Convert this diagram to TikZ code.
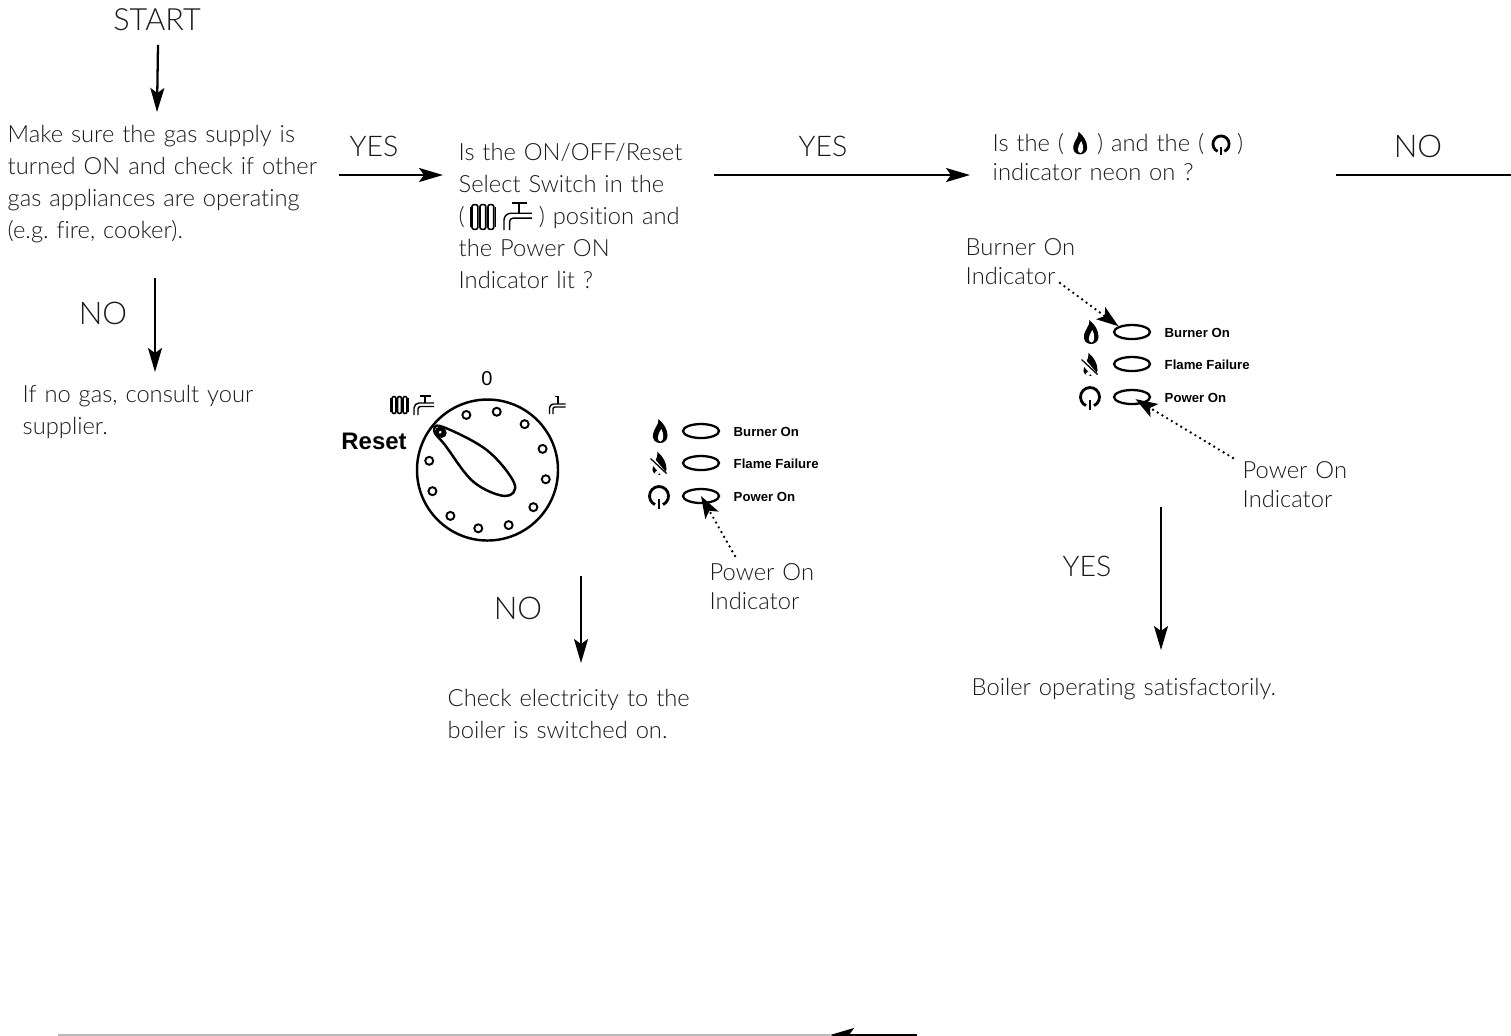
\documentclass[tikz,border=0pt]{standalone}
\usepackage{fontspec}
\setmainfont{Lato}[UprightFont=* Light, WordSpace=0.8, Ligatures=NoCommon]
\newfontfamily\panelfont{Liberation Sans}
\usetikzlibrary{shapes.geometric, arrows.meta, positioning, calc}

\definecolor{inkgrey}{gray}{0.1}
\frenchspacing

\tikzset{
    flow/.style={line width=0.65pt, -{Stealth[length=0.24cm, width=0.14cm, inset=0.05cm]}},
    txt/.style={font=\fontsize{6.75}{9.07}\selectfont, text=inkgrey, align=left, anchor=north west, inner ysep=0.1cm},
    note/.style={txt, font=\fontsize{6.75}{8.2}\selectfont},
    tag/.style={font=\fontsize{8.1}{9.07}\selectfont, text=inkgrey, inner sep=0},
    lamp/.style={draw, ellipse, line width=0.65pt, minimum width=0.36cm, minimum height=0.14cm, inner sep=0},
    lamptext/.style={font=\panelfont\bfseries\fontsize{3.75}{4.5}\selectfont, anchor=west, inner sep=0},
    pointer/.style={line width=0.75pt, dash pattern=on 0pt off 0.055cm, line cap=round, -{Stealth[length=0.22cm, width=0.15cm, inset=0.05cm]}},
    pegs/.style={draw, circle, line width=0.55pt, minimum size=0.08cm, inner sep=0},
    flame/.pic={
        \fill (0,-0.12) .. controls (-0.05,-0.12) and (-0.08,-0.08) .. (-0.07,-0.03)
            .. controls (-0.06,0.03) and (-0.01,0.06) .. (-0.015,0.12)
            .. controls (0.04,0.07) and (0.075,0.02) .. (0.075,-0.05)
            .. controls (0.075,-0.09) and (0.04,-0.12) .. (0,-0.12);
        \fill[white] (0.005,-0.105) .. controls (-0.03,-0.10) and (-0.035,-0.05) .. (0.014,0.02)
            .. controls (0.04,-0.03) and (0.04,-0.10) .. (0.005,-0.105);
    },
    noflame/.pic={
        \fill (0.01,-0.12) .. controls (-0.05,-0.12) and (-0.08,-0.08) .. (-0.06,-0.04)
            .. controls (-0.05,0.01) and (-0.01,0.05) .. (-0.015,0.11)
            .. controls (0.04,0.07) and (0.075,0.0) .. (0.075,-0.06)
            .. controls (0.075,-0.1) and (0.04,-0.12) .. (0.01,-0.12);
        \draw[white, line width=1.6pt] (-0.1,0.065) -- (0.06,-0.125);
        \fill[white] (-0.02,-0.10) circle (0.02);
        \draw[line width=0.35pt] (-0.085,0.045) -- (0.075,-0.105);
    },
    power/.pic={
        \draw[line width=0.8pt] (-65:0.095) arc (-65:245:0.095);
        \draw[line width=0.8pt] (0,-0.13) -- (0,-0.03);
    },
    tap/.pic={
        \draw[line width=0.4pt] (0,0) -- (0,0.07) arc (180:90:0.05) -- (0.20,0.12);
        \draw[line width=0.4pt] (0.04,0) -- (0.04,0.06) arc (180:90:0.025) -- (0.20,0.085);
        \draw[line width=0.55pt] (0.11,0.12) -- (0.11,0.19) (0.055,0.19) -- (0.165,0.19);
    },
    spout/.pic={
        \draw[line width=0.4pt] (0,0) -- (0,0.06) arc (180:90:0.04) -- (0.16,0.10);
        \draw[line width=0.4pt] (0.035,0) -- (0.035,0.05) arc (180:90:0.02) -- (0.16,0.07);
        \draw[line width=0.55pt] (0.085,0.10) -- (0.085,0.175) -- (0.05,0.175);
    },
    radiator/.pic={
        \foreach \x in {0.02,0.075,0.13} {
            \draw[line width=0.45pt, rounded corners=0.02cm] (\x-0.02,0.005) rectangle (\x+0.02,0.175);
        }
        \draw[line width=0.4pt] (-0.012,0.02) -- (-0.012,0.16) (0.162,0.02) -- (0.162,0.16);
    },
    panel/.pic={
        \path (0,0) pic {flame};
        \path (-0.01,-0.32) pic {noflame};
        \path (-0.01,-0.65) pic {power};
        \node[lamp] (-burner) at (0.41,0) {};
        \node[lamp] (-failure) at (0.41,-0.32) {};
        \node[lamp] (-on) at (0.41,-0.65) {};
        \node[lamptext] at (0.73,-0.01) {Burner On};
        \node[lamptext] at (0.73,-0.33) {Flame Failure};
        \node[lamptext] at (0.73,-0.66) {Power On};
    }
}

\begin{document}
\begin{tikzpicture}
    \useasboundingbox (0,0) rectangle (15.11,-10.35);

    % Text boxes
    \node[tag, font=\fontsize{8.7}{10}\selectfont] (start) at (1.57,-0.20) {START};
    \node[txt, inner xsep=0, inner ysep=0.13cm, text width=3.31cm] (gas) at (0.07,-1.12)
        {Make sure the gas supply is\\turned ON and check if other\\gas appliances are operating\\(e.g. fire, cooker).};
    \node[txt, inner xsep=0, inner ysep=0.13cm, text width=2.6cm] (nogas) at (0.22,-3.72)
        {If no gas, consult your\\supplier.};
    \node[txt, inner xsep=0.15cm, text width=2.4cm] (switch) at (4.43,-1.33)
        {Is the ON/OFF/Reset\\Select Switch in the\\(\hspace*{0.74cm}) position and\\the Power ON\\Indicator lit ?};
    \node[note, inner xsep=0.22cm, text width=3.21cm] (neon) at (9.70,-1.23)
        {Is the (\hspace*{0.33cm}) and the (\hspace*{0.33cm})\\indicator neon on ?};
    \node[txt, inner xsep=0, inner ysep=0.26cm, text width=2.8cm] (elec) at (4.47,-6.63)
        {Check electricity to the\\boiler is switched on.};
    \node[txt, inner xsep=0, inner ysep=0.28cm, text width=3.4cm] (boiler) at (9.71,-6.50)
        {Boiler operating satisfactorily.};

    % Branch words
    \node[tag] (yesa) at (3.74,-1.46) {YES};
    \node[tag] (yesb) at (8.23,-1.46) {YES};
    \node[tag, font=\fontsize{8.9}{10}\selectfont] (noc) at (14.18,-1.46) {NO};
    \node[tag, font=\fontsize{8.9}{10}\selectfont] (noa) at (1.03,-3.13) {NO};
    \node[tag, font=\fontsize{8.9}{10}\selectfont] (nob) at (5.18,-6.08) {NO};
    \node[tag] (yesc) at (10.87,-5.66) {YES};

    % Arrows
    \coordinate (rowa) at (0,-1.75);
    \coordinate (tailno) at (1.55,-2.78);
    \coordinate (tailel) at (5.81,-5.76);
    \coordinate (tailok) at (11.61,-5.07);
    \coordinate (edge) at (15.11,-1.75);
    \draw[flow] (start.south) ++(0.01,-0.13) -- (start.south |- gas.north);
    \draw[flow] (tailno) -- (tailno |- nogas.north);
    \draw[flow] (gas.east |- rowa) -- (switch.west |- rowa);
    \draw[flow] (switch.east |- rowa) -- (neon.west |- rowa);
    \draw[line width=0.65pt] (neon.east |- rowa) -- (edge);
    \draw[flow] (tailel) -- (tailel |- elec.north);
    \draw[flow] (tailok) -- (tailok |- boiler.north);

    % Bottom return line
    \coordinate (backa) at (9.17,-10.35);
    \coordinate (backb) at (8.30,-10.35);
    \coordinate (backc) at (0.58,-10.35);
    \draw[line width=0.65pt, gray!55] (backb) -- (backc);
    \draw[flow] (backa) -- (backb);

    % Dial
    \node[circle, draw, line width=0.7pt, minimum size=1.41cm, inner sep=0] (dial) at (4.875,-4.70) {};
    \foreach \a in {141,111,81,51,21,-9,-39,-69,-99,-129,-159,-189} {
        \node[pegs] at ($(dial.center)+(\a:0.59)$) {};
    }
    \draw[line width=0.7pt] plot[smooth cycle, tension=0.6] coordinates
        {(4.345,-4.32) (4.417,-4.265) (4.867,-4.50) (5.143,-4.833) (5.05,-4.96) (4.733,-4.817) (4.45,-4.45)};
    \draw[line width=1pt] (4.40,-4.32) circle (0.035);
    \node[font=\panelfont\bfseries\fontsize{6.8}{8}\selectfont, inner sep=0] (reset) at (3.74,-4.41) {Reset};
    \node[font=\panelfont\fontsize{5.7}{7}\selectfont, inner sep=0] (zero) at (4.87,-3.79) {0};
    \path (3.92,-4.14) pic {radiator};
    \path (4.14,-4.15) pic {tap};
    \path (5.495,-4.14) pic {spout};

    % Symbols standing in the text
    \path (4.72,-2.30) pic[scale=1.45, transform shape] {radiator};
    \path (5.04,-2.30) pic[scale=1.4, transform shape] {tap};
    \path (10.80,-1.43) pic[scale=0.95, transform shape] {flame};
    \path (12.21,-1.44) pic[scale=0.85, transform shape] {power};

    % Indicators
    \path (6.60,-4.31) pic (left) {panel};
    \path (10.91,-3.32) pic (right) {panel};

    % Dotted pointers
    \node[note, inner xsep=0, text width=1.2cm] (ponl) at (7.09,-5.53) {Power On\\Indicator};
    \node[note, inner xsep=0, text width=1.2cm] (ponr) at (12.42,-4.51) {Power On\\Indicator};
    \node[note, inner xsep=0, text width=1.2cm] (bonr) at (9.65,-2.28) {Burner On\\Indicator};
    \coordinate (dotl) at (7.35,-5.56);
    \coordinate (dotr) at (12.33,-4.58);
    \coordinate (dotb) at (10.60,-2.83);
    \draw[pointer] (dotl) -- (left-on.center);
    \draw[pointer, shorten >=0.04cm] (dotr) -- (right-on.center);
    \draw[pointer] (dotb) -- (right-burner.north west);
\end{tikzpicture}
\end{document}
